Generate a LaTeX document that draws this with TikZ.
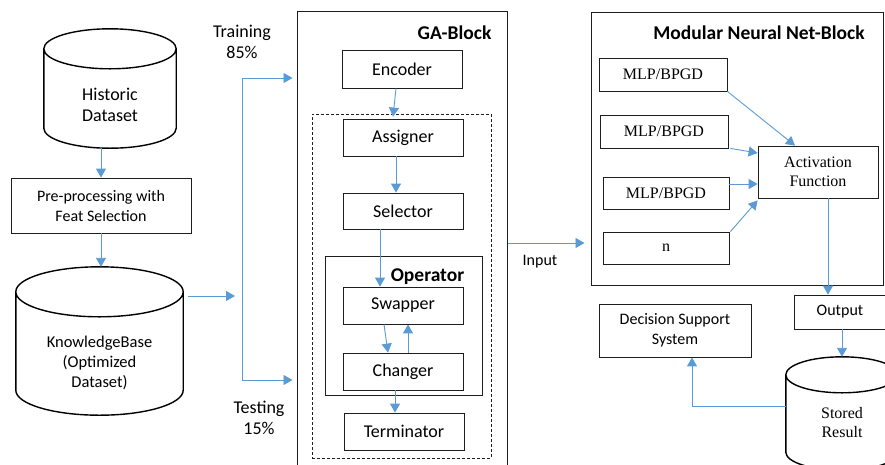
\documentclass[tikz,border=0pt]{standalone}
\usepackage{fontspec}
\setmainfont{Carlito}
\newfontfamily\serifface{Liberation Serif}
\usetikzlibrary{arrows.meta,calc}
\definecolor{flow}{RGB}{91,155,213}
\definecolor{ink}{RGB}{30,30,30}
\tikzset{
  box/.style={draw=ink, line width=0.8pt, inner sep=0pt, align=center,
    font=\fontsize{18}{23}\selectfont},
  smallbox/.style={box, font=\fontsize{16}{20}\selectfont},
  netbox/.style={box, font=\serifface\fontsize{16}{19}\selectfont},
  frame/.style={draw=ink, line width=1pt, inner sep=0pt},
  dashframe/.style={draw=ink, line width=0.8pt, dash pattern=on 3pt off 2pt, inner sep=0pt},
  drumbox/.style={inner sep=0pt},
  drumline/.style={draw=black, line width=1.4pt},
  lbl/.style={inner sep=0pt, align=center, font=\fontsize{18}{21}\selectfont},
  title/.style={inner sep=0pt, font=\bfseries\fontsize{19.5}{23}\selectfont},
  flowline/.style={draw=flow, line width=0.9pt},
  flowarrow/.style={flowline, -{Triangle[length=9pt,width=10pt]}},
}
% cylinder outline around the bounds of a named node: #1 node, #2 half height of the end ellipse (pt)
\newcommand\drumoutline[2]{%
  \path[drumline] let \p1=(#1.north west), \p2=(#1.south east) in
    (\x1,\y1-#2pt) -- (\x1,\y2+#2pt)
    arc[start angle=180, end angle=360, x radius={(\x2-\x1)/2}, y radius=#2pt]
    -- (\x2,\y1-#2pt)
    ({(\x1+\x2)/2},{\y1-#2pt}) ellipse[x radius={(\x2-\x1)/2}, y radius=#2pt];%
}
\begin{document}
\begin{tikzpicture}[x=1pt,y=1pt]
\useasboundingbox (0,0) rectangle (885,-464);
\fill[white] (0,0) rectangle (885,-464);
\clip (0,0) rectangle (885,-464);

% ---------- data preparation ----------
\node[drumbox, minimum width=132pt, minimum height=119pt] (hist) at (110,-88.5) {};
\drumoutline{hist}{20}
\node[lbl] (histtext) at (110,-104.5) {Historic\\Dataset};

\node[smallbox, minimum width=180pt, minimum height=55pt] (pre) at (101,-205.5)
  {Pre-processing with\\Feat Selection};

\node[drumbox, minimum width=167pt, minimum height=148pt] (kb) at (99.5,-341) {};
\drumoutline{kb}{25}
\node[lbl, font=\fontsize{16.5}{20}\selectfont] (kbtext) at (99.5,-363)
  {KnowledgeBase\\(Optimized\\Dataset)};

\draw[flowarrow] (hist.south -| pre.north) -- (pre.north);
\draw[flowarrow] (pre.south) -- (kb.north -| pre.south);

% ---------- split into training / testing ----------
\coordinate (split) at (242,-296);
\coordinate (trainpt) at (242,-78);
\coordinate (testpt) at (242,-380);
\draw[flowarrow, shorten >=7pt] ([xshift=5pt]kb.east |- split) -- (split);
\draw[flowline] (trainpt) -- (testpt);

\node[lbl] (train) at (242,-42) {Training\\85\%};
\node[lbl] (test) at (259,-417.5) {Testing\\15\%};

% ---------- GA block ----------
\node[frame, minimum width=210pt, minimum height=464pt] (ga) at (402,-243) {};
\node[title] (gatitle) at (454.5,-33) {GA-Block};
\draw[flowarrow, shorten >=4pt] (trainpt) -- (trainpt -| ga.west);
\draw[flowarrow, shorten >=4pt] (testpt) -- (testpt -| ga.west);

\node[box, minimum width=120pt, minimum height=38pt] (enc) at (402,-69) {Encoder};
\node[dashframe, minimum width=179pt, minimum height=344pt] (loop) at (401.5,-286) {};
\node[box, minimum width=120pt, minimum height=37pt] (asg) at (403,-137.5) {Assigner};
\node[box, minimum width=120pt, minimum height=36pt] (sel) at (403,-211) {Selector};
\node[frame, line width=0.8pt, minimum width=157pt, minimum height=139pt] (op) at (403.5,-325.5) {};
\node[title] (optitle) at (427.5,-277) {Operator};
\node[box, minimum width=120pt, minimum height=37pt] (swp) at (403,-305.5) {Swapper};
\node[box, minimum width=120pt, minimum height=37pt] (chg) at (403,-371.5) {Changer};
\node[box, minimum width=120pt, minimum height=37pt] (term) at (404,-431.5) {Terminator};

\draw[flowarrow] ([xshift=-6pt]enc.south) -- ([xshift=-10pt,yshift=2pt]asg.north);
\draw[flowarrow] ([xshift=-7pt]asg.south) -- ([xshift=-7pt]sel.north);
\draw[flowarrow] ([xshift=-23pt]sel.south) -- ([xshift=-23pt]swp.north);
\draw[flowarrow] ([xshift=-19pt]swp.south) -- ([xshift=-15pt]chg.north);
\draw[flowarrow] ([xshift=5pt]chg.north) -- ([xshift=5pt]swp.south);
\draw[flowarrow] ([xshift=-8pt]chg.south) -- ([xshift=-9pt]term.north);

% ---------- modular neural net block ----------
\node[frame, minimum width=292pt, minimum height=273pt] (mnn) at (737,-148.5) {};
\node[title] (mnntitle) at (759,-33) {Modular Neural Net-Block};
\draw[flowarrow, shorten >=6pt] (ga.east) -- (ga.east -| mnn.west);
\node[lbl, font=\fontsize{16}{19}\selectfont] (input) at (540,-262) {Input};

\node[netbox, minimum width=128pt, minimum height=33pt] (mlpa) at (663,-74.5) {MLP/BPGD};
\node[netbox, minimum width=128pt, minimum height=33pt] (mlpb) at (664,-131.5) {MLP/BPGD};
\node[netbox, minimum width=126pt, minimum height=32pt] (mlpc) at (666,-193) {MLP/BPGD};
\node[netbox, minimum width=126pt, minimum height=32pt] (mlpn) at (666,-248) {n};
\node[netbox, minimum width=120pt, minimum height=52pt] (act) at (818,-172) {Activation\\Function};

\draw[flowarrow] (mlpa.south east) -- ([xshift=-23pt]act.north);
\draw[flowarrow] ([xshift=2pt]mlpb.south east) -- ([yshift=19pt]act.west);
\draw[flowarrow] ([yshift=9pt]mlpc.east) -- ([yshift=9pt]mlpc.east -| act.west);
\draw[flowarrow] ([xshift=1pt]mlpn.north east) -- ([yshift=-2pt]act.south west);

% ---------- output and storage ----------
\node[smallbox, minimum width=94pt, minimum height=34pt] (out) at (841,-312) {};
\node[lbl, font=\fontsize{16}{19}\selectfont] (outtext) at (840,-312) {Output};
\draw[flowarrow] ([xshift=10pt]act.south) -- ([xshift=10pt]act.south |- out.north);

\node[drumbox, minimum width=112pt, minimum height=113pt] (store) at (842,-413.5) {};
\drumoutline{store}{18}
\node[lbl, font=\serifface\fontsize{16}{19}\selectfont] (storetext) at (842,-422.5) {Stored\\Result};
\draw[flowarrow] (store.north |- out.south) -- (store.north);

\node[smallbox, minimum width=152pt, minimum height=53pt] (dss) at (675,-330.5)
  {Decision Support\\System};
\draw[flowarrow] ([yshift=7pt]store.west) -| ([xshift=17pt]dss.south);
\end{tikzpicture}
\end{document}
